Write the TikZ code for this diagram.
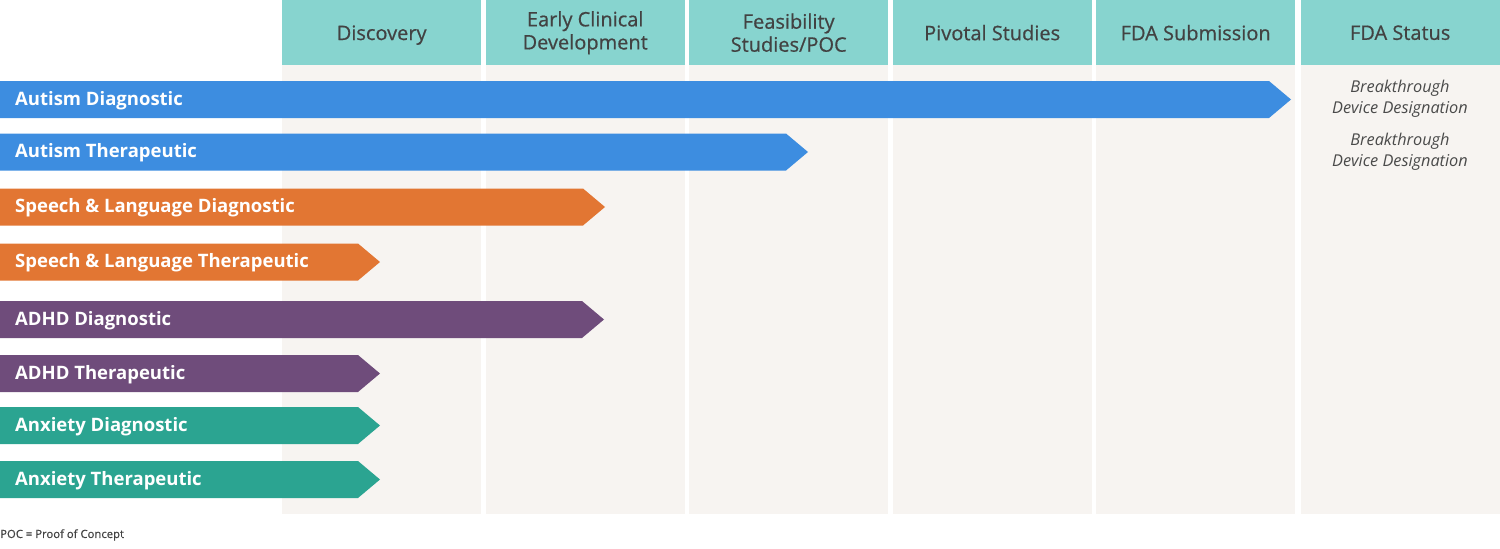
\documentclass[tikz,border=0pt]{standalone}
\usepackage{fontspec}
\setmainfont{Open Sans}
\newfontfamily\semifont{Open Sans}[FakeBold=0.6]
\definecolor{hdrfill}{HTML}{87D4CF}
\definecolor{colbg}{HTML}{F7F4F1}
\definecolor{hdrtext}{HTML}{424242}
\definecolor{ablue}{HTML}{3D8DE0}
\definecolor{aorange}{HTML}{E27633}
\definecolor{apurple}{HTML}{6F4C7B}
\definecolor{ateal}{HTML}{2BA491}
\definecolor{stattext}{HTML}{4A4A4A}
\tikzset{
  hdr/.style={fill=hdrfill, anchor=north west, minimum width=199pt, minimum height=65pt, inner sep=0pt, align=center, text=hdrtext, font=\semifont\fontsize{20}{23}\selectfont},
  colbox/.style={fill=colbg},
  lbl/.style={anchor=west, text=white, inner sep=0pt, font=\fontsize{18.5}{22}\selectfont\bfseries},
  stat/.style={align=center, text=stattext, inner sep=0pt, font=\fontsize{16.3}{20.5}\selectfont\itshape},
}
\newcommand{\pipebar}[5]{% ymid, xtip, color, name, text
  \fill[#3] (0,#1-18.5) -- (#2-22,#1-18.5) -- (#2,#1) -- (#2-22,#1+18.5) -- (0,#1+18.5) -- cycle;
  \node[lbl] (#4) at (15,#1+1) {#5};
}
\begin{document}
\begin{tikzpicture}[x=1pt,y=-1pt]
\useasboundingbox (0,0) rectangle (1500,549);
% column backgrounds
\foreach \cx in {282,485.5,689,892.5,1096,1300.5}{
  \fill[colbox] (\cx,65) rectangle (\cx+199,514);
}
% headers
\node[hdr, text depth=0pt] (h1) at (282,0) {Discovery};
\node[hdr] (h2) at (485.5,0) {Early Clinical\\Development};
\node[hdr] (h3) at (689,0) {Feasibility\\Studies/POC};
\node[hdr] (h4) at (892.5,0) {Pivotal Studies};
\node[hdr] (h5) at (1096,0) {FDA Submission};
\node[hdr] (h6) at (1300.5,0) {FDA Status};
% bars
\pipebar{99.5}{1291}{ablue}{r1}{Autism Diagnostic}
\pipebar{152}{808}{ablue}{r2}{Autism Therapeutic}
\pipebar{207}{605}{aorange}{r3}{Speech \& Language Diagnostic}
\pipebar{262}{380}{aorange}{r4}{Speech \& Language Therapeutic}
\pipebar{319.5}{604}{apurple}{r5}{ADHD Diagnostic}
\pipebar{373.5}{380}{apurple}{r6}{ADHD Therapeutic}
\pipebar{425.5}{380}{ateal}{r7}{Anxiety Diagnostic}
\pipebar{479.5}{380}{ateal}{r8}{Anxiety Therapeutic}
% status
\node[stat] (s1) at (1400,99) {Breakthrough\\Device Designation};
\node[stat] (s2) at (1400,152) {Breakthrough\\Device Designation};
% footnote
\node[anchor=west, inner sep=0pt, text=hdrtext, font=\semifont\fontsize{11.3}{13}\selectfont] (fn) at (0,535) {POC = Proof of Concept};
\end{tikzpicture}
\end{document}
